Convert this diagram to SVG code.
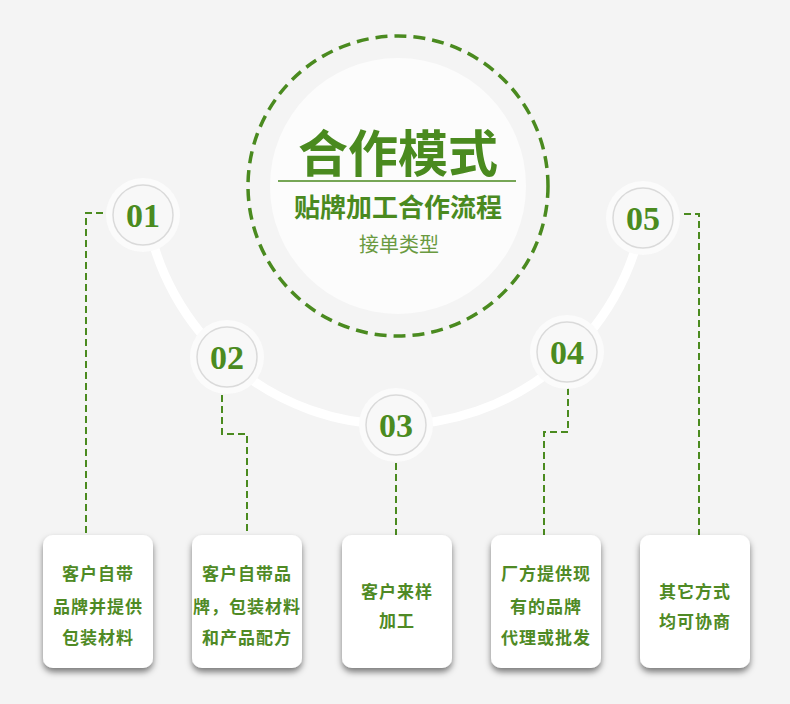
<svg xmlns="http://www.w3.org/2000/svg" width="790" height="704" viewBox="0 0 790 704">
<defs>
<filter id="sh" x="-30%" y="-30%" width="160%" height="170%">
<feDropShadow dx="0" dy="4" stdDeviation="3" flood-color="#000" flood-opacity="0.5"/>
</filter>
</defs>
<style>
.num{font-family:"Liberation Serif","DejaVu Serif",serif;font-size:34px;font-weight:bold;fill:#4b8b1f;text-anchor:middle}
.box{fill:#ffffff}
.bt{font-family:"Noto Sans CJK SC","Noto Sans CJK TC",sans-serif;font-size:17px;font-weight:bold;fill:#4f8a25;text-anchor:middle;letter-spacing:1px}
.conn{fill:none;stroke:#4a8a1f;stroke-width:2;stroke-dasharray:7 4}
.halo{fill:#fbfbfb}
.inner{fill:#f8f8f8;stroke:#dadada;stroke-width:1.5}
</style>
<rect width="790" height="704" fill="#f4f4f4"/>
<path d="M146.6,214.4 A252,252 0 0 0 643,218" fill="none" stroke="#ffffff" stroke-width="9"/>
<g id="center">
<circle cx="398" cy="186" r="128" fill="#fcfcfc"/>
<circle cx="398" cy="186" r="150" fill="none" stroke="#4a8a1f" stroke-width="3.5" stroke-dasharray="12 7"/>
<text x="398" y="172" font-family="Noto Sans CJK SC,sans-serif" font-weight="bold" font-size="50" fill="#4a8a1f" text-anchor="middle">合作模式</text>
<line x1="278" y1="181" x2="516" y2="181" stroke="#4a8a1f" stroke-width="1.5"/>
<text x="398" y="217" font-family="Noto Sans CJK SC,sans-serif" font-weight="bold" font-size="26" fill="#4a8a1f" text-anchor="middle">贴牌加工合作流程</text>
<text x="399" y="252" font-family="Noto Sans CJK SC,sans-serif" font-size="20" fill="#6a9a40" text-anchor="middle">接单类型</text>
</g>
<g id="connectors">
<polyline class="conn" points="103,213 86,213 86,535"/>
<polyline class="conn" points="222,395 222,434 247,434 247,535"/>
<polyline class="conn" points="396,463 396,535"/>
<polyline class="conn" points="568,388 568,432 544,432 544,535"/>
<polyline class="conn" points="684,214 699,214 699,535"/>
</g>
<g id="n01"><circle class="halo" cx="143" cy="215" r="37"/><circle class="inner" cx="143" cy="215" r="30"/><text class="num" x="143" y="227">01</text></g>
<g id="n02"><circle class="halo" cx="227" cy="357" r="37"/><circle class="inner" cx="227" cy="357" r="30"/><text class="num" x="227" y="369">02</text></g>
<g id="n03"><circle class="halo" cx="396" cy="425" r="37"/><circle class="inner" cx="396" cy="425" r="30"/><text class="num" x="396" y="437">03</text></g>
<g id="n04"><circle class="halo" cx="567" cy="352" r="37"/><circle class="inner" cx="567" cy="352" r="30"/><text class="num" x="567" y="364">04</text></g>
<g id="n05"><circle class="halo" cx="643" cy="218" r="37"/><circle class="inner" cx="643" cy="218" r="30"/><text class="num" x="643" y="230">05</text></g>
<g id="b1"><rect class="box" x="43" y="535" width="110" height="133" rx="10" filter="url(#sh)"/>
<text class="bt" x="98" y="580">客户自带</text><text class="bt" x="98" y="613">品牌并提供</text><text class="bt" x="98" y="644">包装材料</text></g>
<g id="b2"><rect class="box" x="192" y="535" width="110" height="133" rx="10" filter="url(#sh)"/>
<text class="bt" x="247" y="580">客户自带品</text><text class="bt" x="247" y="613">牌，包装材料</text><text class="bt" x="247" y="644">和产品配方</text></g>
<g id="b3"><rect class="box" x="342" y="535" width="110" height="133" rx="10" filter="url(#sh)"/>
<text class="bt" x="397" y="598">客户来样</text><text class="bt" x="397" y="627">加工</text></g>
<g id="b4"><rect class="box" x="491" y="535" width="110" height="133" rx="10" filter="url(#sh)"/>
<text class="bt" x="546" y="580">厂方提供现</text><text class="bt" x="546" y="613">有的品牌</text><text class="bt" x="546" y="644">代理或批发</text></g>
<g id="b5"><rect class="box" x="640" y="535" width="110" height="133" rx="10" filter="url(#sh)"/>
<text class="bt" x="695" y="598">其它方式</text><text class="bt" x="695" y="628">均可协商</text></g>
</svg>
